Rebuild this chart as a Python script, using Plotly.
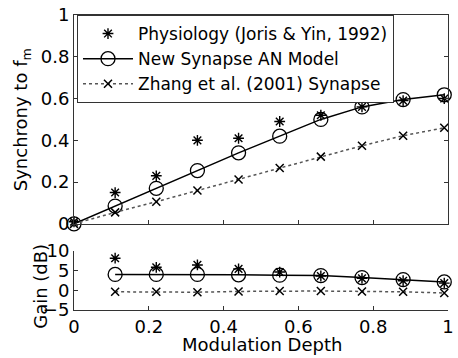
import plotly.graph_objects as go

# Modulation depths used in both panels
depth = [0, 0.11, 0.22, 0.33, 0.44, 0.55, 0.66, 0.77, 0.88, 0.99]

# Synchrony to the modulation frequency (upper panel)
sync_physiology = [0.01, 0.15, 0.23, 0.40, 0.41, 0.49, 0.52, 0.56, 0.59, 0.60]
sync_new_model = [0.0, 0.085, 0.17, 0.255, 0.34, 0.42, 0.50, 0.56, 0.595, 0.618]
sync_zhang = [0.0, 0.055, 0.106, 0.16, 0.212, 0.267, 0.322, 0.374, 0.422, 0.46]

# Modulation gain in dB (lower panel, undefined at zero depth)
gain_depth = depth[1:]
gain_physiology = [8.1, 5.8, 6.4, 5.4, 4.6, 3.6, 3.0, 2.4, 1.8]
gain_new_model = [4.0, 4.0, 4.0, 3.9, 3.8, 3.7, 3.2, 2.7, 2.1]
gain_zhang = [-0.4, -0.4, -0.5, -0.3, -0.2, -0.2, -0.3, -0.4, -0.7]

names = ["Physiology (Joris & Yin, 1992)", "New Synapse AN Model", "Zhang et al. (2001) Synapse"]
x_ticks = [0, 0.2, 0.4, 0.6, 0.8, 1]
x_tick_text = ["0", "0.2", "0.4", "0.6", "0.8", "1"]
sync_ticks = [0, 0.2, 0.4, 0.6, 0.8, 1]
sync_tick_text = ["0", "0.2", "0.4", "0.6", "0.8", "1"]
gain_ticks = [-5, 0, 5, 10]

FONT = "DejaVu Sans"
AX = "#333333"
X_RANGE = [0, 1]

star = dict(symbol="asterisk-open", size=9, color="black", line=dict(color="black", width=1.4))
circle = dict(symbol="circle-open", size=14, color="black", line=dict(color="black", width=1.3))
cross = dict(symbol="x-thin-open", size=8, color="black", line=dict(color="black", width=1.5))

fig = go.Figure()

fig.add_trace(go.Scatter(x=depth, y=sync_physiology, mode="markers", marker=star,
                         name=names[0], xaxis="x", yaxis="y", cliponaxis=False))
fig.add_trace(go.Scatter(x=depth, y=sync_new_model, mode="lines+markers", marker=circle,
                         line=dict(color="black", width=1.5), name=names[1],
                         xaxis="x", yaxis="y", cliponaxis=False))
fig.add_trace(go.Scatter(x=depth, y=sync_zhang, mode="lines+markers", marker=cross,
                         line=dict(color="#555555", width=1.5, dash="dot"), name=names[2],
                         xaxis="x", yaxis="y", cliponaxis=False))

fig.add_trace(go.Scatter(x=gain_depth, y=gain_physiology, mode="markers", marker=star,
                         showlegend=False, xaxis="x2", yaxis="y2", cliponaxis=False))
fig.add_trace(go.Scatter(x=gain_depth, y=gain_new_model, mode="lines+markers", marker=circle,
                         line=dict(color="black", width=1.5), showlegend=False,
                         xaxis="x2", yaxis="y2", cliponaxis=False))
fig.add_trace(go.Scatter(x=gain_depth, y=gain_zhang, mode="lines+markers", marker=cross,
                         line=dict(color="#555555", width=1.5, dash="dot"), showlegend=False,
                         xaxis="x2", yaxis="y2", cliponaxis=False))

common = dict(showgrid=False, zeroline=False, showline=True, linecolor=AX, linewidth=1,
              ticks="inside", ticklen=4, tickcolor=AX, ticklabeloverflow="allow",
              tickfont=dict(family=FONT, size=18, color="black"))

fig.update_layout(
    width=458, height=358,
    margin=dict(l=74, r=4, t=12, b=48),
    paper_bgcolor="white", plot_bgcolor="white",
    font=dict(family=FONT, size=18, color="black"),
    xaxis=dict(domain=[0, 1], range=X_RANGE, anchor="y", tickvals=x_ticks,
               showticklabels=False, mirror="allticks", **common),
    yaxis=dict(domain=[0.292, 1], range=[0, 1], anchor="x", tickvals=sync_ticks,
               ticktext=sync_tick_text, mirror="allticks", **common),
    xaxis2=dict(domain=[0, 1], range=X_RANGE, anchor="y2", tickvals=x_ticks,
                ticktext=x_tick_text, **common),
    yaxis2=dict(domain=[0, 0.201], range=[-5, 10], anchor="x2", tickvals=gain_ticks, **common),
    legend=dict(x=0.008, y=1, xanchor="left", yanchor="top", bgcolor="white",
                bordercolor="#333333", borderwidth=1, itemwidth=50,
                font=dict(family=FONT, size=17, color="black")),
    annotations=[
        dict(text="Synchrony to f<sub>m</sub>", textangle=-90, xref="paper", yref="y domain",
             x=-52 / 380, y=0.5, xanchor="center", yanchor="middle", showarrow=False,
             font=dict(family=FONT, size=18, color="black")),
        dict(text="Gain (dB)", textangle=-90, xref="paper", yref="y2 domain",
             x=-34 / 380, y=0.4, xanchor="center", yanchor="middle", showarrow=False,
             font=dict(family=FONT, size=18, color="black")),
        dict(text="Modulation Depth", xref="x2 domain", yref="paper",
             x=0.503, y=0, xanchor="center", yanchor="middle", yshift=-34, showarrow=False,
             font=dict(family=FONT, size=18, color="black")),
    ],
)

fig.write_html("out.html")
